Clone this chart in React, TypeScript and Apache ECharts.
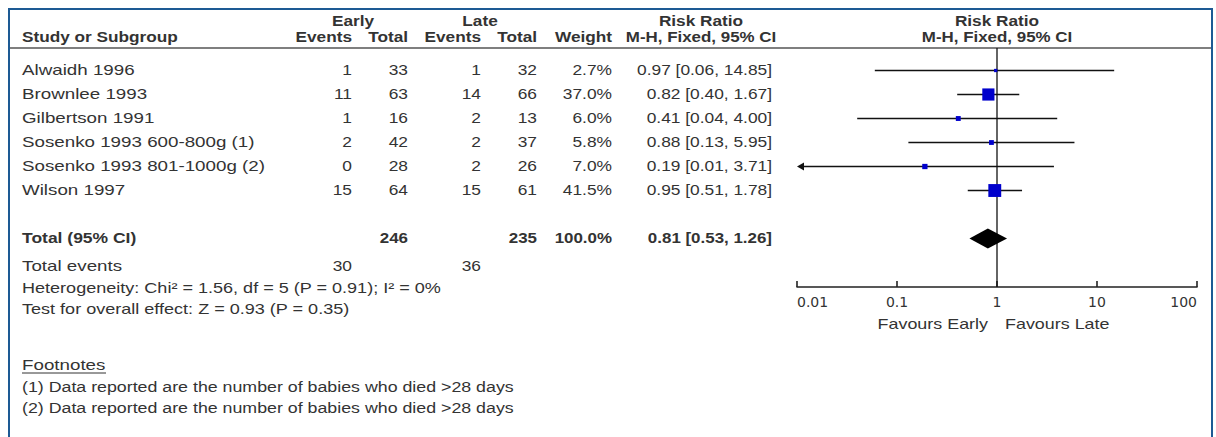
import React, { useEffect, useRef } from "react";
import * as echarts from "echarts";

// ---------- data ----------
const studies = [
  "Alwaidh 1996",
  "Brownlee 1993",
  "Gilbertson 1991",
  "Sosenko 1993 600-800g (1)",
  "Sosenko 1993 801-1000g (2)",
  "Wilson 1997",
];
const earlyEvents = [1, 11, 1, 2, 0, 15];
const earlyTotal = [33, 63, 16, 42, 28, 64];
const lateEvents = [1, 14, 2, 2, 2, 15];
const lateTotal = [32, 66, 13, 37, 26, 61];
const weights = [2.7, 37.0, 6.0, 5.8, 7.0, 41.5];
const riskRatio = [0.97, 0.82, 0.41, 0.88, 0.19, 0.95];
const ciLower = [0.06, 0.4, 0.04, 0.13, 0.01, 0.51];
const ciUpper = [14.85, 1.67, 4.0, 5.95, 3.71, 1.78];

const totalEarlyN = 246;
const totalLateN = 235;
const totalWeight = 100.0;
const totalRR = 0.81;
const totalLower = 0.53;
const totalUpper = 1.26;
const totalEventsEarly = 30;
const totalEventsLate = 36;

const heterogeneityText = "Heterogeneity: Chi\u00B2 = 1.56, df = 5 (P = 0.91); I\u00B2 = 0%";
const overallEffectText = "Test for overall effect: Z = 0.93 (P = 0.35)";
const footnotes = [
  "(1) Data reported are the number of babies who died >28 days",
  "(2) Data reported are the number of babies who died >28 days",
];
const xTickLabels = ["0.01", "0.1", "1", "10", "100"];

// ---------- layout ----------
const ROW0 = 70.5;
const ROWH = 24;
const TOTAL_ROW = 7;
const Y_MIN = -0.9375;
const Y_MAX = 9.02;
const rowY = (i: number) => ROW0 + ROWH * i;

const TEXT = "#333";
const fontReg = '14px "Liberation Sans", Arial, sans-serif';
const fontBold = 'bold 14px "Liberation Sans", Arial, sans-serif';

// horizontal stretch factors
const S_NAME = 1.34;
const S_NUM = 1.24;
const S_STAT = 1.29;
const S_NOTE = 1.27;
const S_BOLD = 1.23;
const S_BOLD_NUM = 1.21;

function T(text: string, x: number, y: number, align: string, scale: number, bold = false) {
  return {
    type: "text",
    x,
    y,
    scaleX: scale,
    silent: true,
    style: {
      text,
      fill: TEXT,
      font: bold ? fontBold : fontReg,
      textAlign: align,
      textVerticalAlign: "middle",
    },
  };
}

const fmt2 = (v: number) => v.toFixed(2);
const ciText = (r: number, l: number, u: number) => `${fmt2(r)} [${fmt2(l)}, ${fmt2(u)}]`;

// column anchors
const C_NAME = 22;
const C_EE = 352;
const C_ET = 408;
const C_LE = 481;
const C_LT = 537;
const C_W = 612;
const C_CI = 772;
const C_CI_MID = 701;
const C_PLOT = 997;

export default function App() {
  const ref = useRef<HTMLDivElement>(null);
  useEffect(() => {
    if (!ref.current) return;
    const chart = echarts.init(ref.current, undefined, { renderer: "svg" });

    const graphics: any[] = [];
    graphics.push({
      type: "rect",
      silent: true,
      shape: { x: 9, y: 9, width: 1203, height: 445 },
      style: { fill: "none", stroke: "#1d5a94", lineWidth: 2 },
    });
    graphics.push({
      type: "line",
      silent: true,
      shape: { x1: 10, y1: 48, x2: 1211, y2: 48 },
      style: { stroke: "#555", lineWidth: 1.5 },
    });
    graphics.push(T("Early", (298 + C_ET) / 2, 21, "center", S_BOLD, true));
    graphics.push(T("Late", (423 + C_LT) / 2, 21, "center", S_BOLD, true));
    graphics.push(T("Risk Ratio", C_CI_MID, 21, "center", S_BOLD, true));
    graphics.push(T("Risk Ratio", C_PLOT, 21, "center", S_BOLD, true));
    graphics.push(T("Study or Subgroup", C_NAME, 37, "left", S_BOLD, true));
    graphics.push(T("Events", C_EE, 37, "right", S_BOLD, true));
    graphics.push(T("Total", C_ET, 37, "right", S_BOLD, true));
    graphics.push(T("Events", C_LE, 37, "right", S_BOLD, true));
    graphics.push(T("Total", C_LT, 37, "right", S_BOLD, true));
    graphics.push(T("Weight", C_W, 37, "right", S_BOLD, true));
    graphics.push(T("M-H, Fixed, 95% CI", C_CI_MID, 37, "center", S_BOLD_NUM, true));
    graphics.push(T("M-H, Fixed, 95% CI", C_PLOT, 37, "center", S_BOLD_NUM, true));

    studies.forEach((s, i) => {
      const y = rowY(i);
      graphics.push(T(s, C_NAME, y, "left", S_NAME));
      graphics.push(T(String(earlyEvents[i]), C_EE, y, "right", S_NUM));
      graphics.push(T(String(earlyTotal[i]), C_ET, y, "right", S_NUM));
      graphics.push(T(String(lateEvents[i]), C_LE, y, "right", S_NUM));
      graphics.push(T(String(lateTotal[i]), C_LT, y, "right", S_NUM));
      graphics.push(T(weights[i].toFixed(1) + "%", C_W, y, "right", S_NUM));
      graphics.push(T(ciText(riskRatio[i], ciLower[i], ciUpper[i]), C_CI, y, "right", S_NUM));
    });

    const ty = rowY(TOTAL_ROW);
    graphics.push(T("Total (95% CI)", C_NAME, ty, "left", 1.25, true));
    graphics.push(T(String(totalEarlyN), C_ET, ty, "right", S_BOLD_NUM, true));
    graphics.push(T(String(totalLateN), C_LT, ty, "right", S_BOLD_NUM, true));
    graphics.push(T(totalWeight.toFixed(1) + "%", C_W, ty, "right", S_BOLD_NUM, true));
    graphics.push(T(ciText(totalRR, totalLower, totalUpper), C_CI, ty, "right", S_BOLD_NUM, true));

    graphics.push(T("Total events", C_NAME, 266, "left", S_NAME));
    graphics.push(T(String(totalEventsEarly), C_EE, 266, "right", S_NUM));
    graphics.push(T(String(totalEventsLate), C_LE, 266, "right", S_NUM));
    graphics.push(T(heterogeneityText, C_NAME, 288, "left", S_STAT));
    graphics.push(T(overallEffectText, C_NAME, 309, "left", S_STAT));
    graphics.push(T("Footnotes", C_NAME, 365, "left", S_NAME));
    graphics.push({
      type: "line",
      silent: true,
      shape: { x1: C_NAME, y1: 373, x2: C_NAME + 84, y2: 373 },
      style: { stroke: TEXT, lineWidth: 1 },
    });
    footnotes.forEach((f, i) => graphics.push(T(f, C_NAME, 387 + 21 * i, "left", S_NOTE)));

    graphics.push(T("Favours Early", 988, 324, "right", 1.28));
    graphics.push(T("Favours Late", 1005, 324, "left", 1.28));

    const studyData = studies.map((_, i) => [riskRatio[i], ciLower[i], ciUpper[i], i, weights[i]]);

    chart.setOption({
      animation: false,
      grid: { left: 797, width: 400, top: 48, height: 239, containLabel: false },
      xAxis: {
        type: "log",
        logBase: 10,
        min: 0.01,
        max: 100,
        splitLine: { show: false },
        minorTick: { show: false },
        axisLine: { show: true, onZero: false, lineStyle: { color: "#222", width: 1.6 } },
        axisTick: { show: true, inside: true, length: 6, lineStyle: { color: "#222", width: 1.6 } },
        axisLabel: {
          color: "#333",
          fontFamily: '"DejaVu Sans", sans-serif',
          fontSize: 14,
          margin: 8,
          alignMinLabel: "left",
          alignMaxLabel: "right",
          showMinLabel: true,
          showMaxLabel: true,
          formatter: (v: number) => {
            const idx = Math.round(Math.log10(v)) + 2;
            return xTickLabels[idx] ?? "";
          },
        },
      },
      yAxis: {
        type: "value",
        min: Y_MIN,
        max: Y_MAX,
        inverse: true,
        show: false,
        splitLine: { show: false },
      },
      graphic: graphics,
      series: [
        {
          type: "line",
          z: 1,
          symbol: "none",
          silent: true,
          lineStyle: { color: "#111", width: 1.3 },
          data: [
            [1, Y_MIN],
            [1, Y_MAX],
          ],
        },
        {
          type: "custom",
          z: 2,
          silent: true,
          encode: { x: [0, 1, 2], y: 3 },
          data: studyData,
          clip: false,
          renderItem: (params: any, api: any) => {
            const r = api.value(0);
            const lo = api.value(1);
            const hi = api.value(2);
            const row = api.value(3);
            const w = api.value(4);
            const arrowL = lo <= 0.01;
            const loC = Math.max(lo, 0.01);
            const hiC = Math.min(hi, 100);
            const pL = api.coord([loC, row]);
            const pH = api.coord([hiC, row]);
            const pC = api.coord([r, row]);
            const s = 20 * Math.sqrt(w / 100);
            const children: any[] = [
              {
                type: "line",
                shape: { x1: pL[0] + (arrowL ? 5 : 0), y1: pL[1], x2: pH[0], y2: pH[1] },
                style: { stroke: "#111", lineWidth: 1.3 },
              },
              {
                type: "rect",
                shape: { x: pC[0] - s / 2, y: pC[1] - s / 2, width: s, height: s },
                style: { fill: "#0000cc", stroke: null },
              },
            ];
            if (arrowL) {
              children.push({
                type: "polygon",
                shape: {
                  points: [
                    [pL[0], pL[1]],
                    [pL[0] + 7, pL[1] - 4],
                    [pL[0] + 7, pL[1] + 4],
                  ],
                },
                style: { fill: "#111" },
              });
            }
            return { type: "group", children };
          },
        },
        {
          type: "custom",
          z: 3,
          silent: true,
          encode: { x: [0, 1, 2], y: 3 },
          data: [[totalRR, totalLower, totalUpper, TOTAL_ROW]],
          renderItem: (params: any, api: any) => {
            const row = api.value(3);
            const pC = api.coord([api.value(0), row]);
            const pL = api.coord([api.value(1), row]);
            const pH = api.coord([api.value(2), row]);
            return {
              type: "polygon",
              shape: {
                points: [
                  [pL[0], pL[1]],
                  [pC[0], pC[1] - 10],
                  [pH[0], pH[1]],
                  [pC[0], pC[1] + 10],
                ],
              },
              style: { fill: "#000" },
            };
          },
        },
      ],
    });
    return () => chart.dispose();
  }, []);

  return (
    <div
      ref={ref}
      style={{ position: "fixed", left: 0, top: 0, width: 1216, height: 437, background: "#fff" }}
    />
  );
}
